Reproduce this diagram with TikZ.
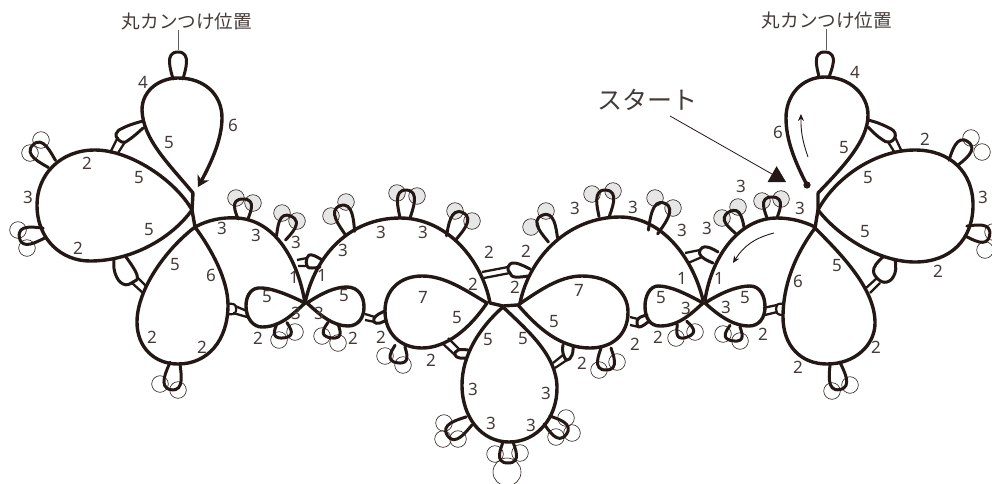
\documentclass[tikz,border=0pt]{standalone}
\usepackage{fontspec}
\setmainfont{Noto Sans}
\newfontfamily\jpfont{Noto Sans CJK JP}
\usepackage{xcolor}
\usetikzlibrary{arrows.meta}
\definecolor{ink}{HTML}{231815}
\definecolor{pale}{HTML}{E6E6E6}
\begin{document}
\begin{tikzpicture}[
    x=1pt,y=-1pt,
    thread/.style={draw=ink,line width=3.4pt,line join=round,line cap=round},
    bag/.style={thread,line width=3pt},
    leg/.style={draw=ink,line width=2.3pt},
    bead/.style={draw=ink,line width=0.6pt},
    flow/.style={draw=ink,line width=0.9pt,-{Stealth[length=7pt,width=6pt]}},
    stitch/.style={inner sep=0pt,text=ink!85,font=\fontsize{17}{18}\selectfont},
    tag/.style={inner sep=0pt,text=ink!85,font=\jpfont\fontsize{18.6}{20}\selectfont},
    leader/.style={draw=ink!70,line width=0.8pt},
    picot/.pic={\draw[bag] (-5,0) .. controls (-7,-.3*\plen) and (-14,-\plen) .. (0,-\plen)
      .. controls (14,-\plen) and (7,-.3*\plen) .. (5,0);}
  ]
    \useasboundingbox (0,0) rectangle (992,483);
    % beads
    \foreach \x/\y in {236/198,253/203,282/213,297/221,346/202,331/216,397/193,417/196,455/211,472/221,
        546/211,531/227,592/194,613/191,655/198,673/208,738/207,722/218,762/201,781/199}
      \draw[bead,fill=pale] (\x,\y) circle (8.3);
    \foreach \x/\y in {41/140,30/153,18/230,27/248,160/384,178/390,279/340,295/332,322/336,338/343,385/356,403/365,
        444/423,443/439,458/439,495/454,520/453,566/418,572/433,556/437,599/370,617/362,676/338,695/332,
        723/334,740/341,832/391,850/385,971/138,982/152,993/232,985/250}
      \draw[bead] (\x,\y) circle (8.3);
    \draw[bead] (507,472) circle (14);
    % rings on the left
    \draw[thread,-{Stealth[length=11pt,width=13pt]}] (193,193) .. controls (170,165) and (143,140) .. (142,110)
      .. controls (142,90) and (160,78) .. (178,78) .. controls (205,78) and (222,95) .. (222,118)
      .. controls (222,140) and (210,165) .. (198,187);
    \draw[thread] (192,210) .. controls (175,180) and (130,150) .. (95,150) .. controls (60,150) and (37,175) .. (37,205)
      .. controls (37,240) and (62,261) .. (90,261) .. controls (130,261) and (170,240) .. (192,210);
    \draw[thread] (195,227) .. controls (165,250) and (137,290) .. (137,322) .. controls (137,348) and (155,364) .. (178,364)
      .. controls (208,364) and (228,340) .. (228,305) .. controls (228,280) and (212,250) .. (195,227);
    \draw[thread] (193,193) -- (192,210) -- (195,227);
    \draw[thread] (195,227) .. controls (208,220) and (222,217) .. (237,218) .. controls (275,220) and (298,260) .. (305,303);
    \draw[thread] (305,303) .. controls (285,293) and (268,287) .. (258,288) .. controls (250,289) and (246,297) .. (246,306)
      .. controls (246,318) and (253,327) .. (262,327) .. controls (280,327) and (292,315) .. (305,303);
    \draw[thread] (305,303) .. controls (315,255) and (350,218) .. (400,218) .. controls (447,218) and (482,260) .. (490,303);
    \draw[thread] (307,303) .. controls (322,293) and (335,287) .. (347,287) .. controls (358,287) and (364,296) .. (364,307)
      .. controls (364,318) and (358,326) .. (348,326) .. controls (333,326) and (320,315) .. (307,303);
    \draw[thread] (487,303) .. controls (465,290) and (445,276) .. (422,276) .. controls (400,276) and (385,290) .. (385,311)
      .. controls (385,333) and (400,348) .. (422,348) .. controls (447,348) and (470,328) .. (487,303);
    % centre ring and the thread across
    \draw[thread] (503,307) .. controls (480,327) and (462,355) .. (462,385) .. controls (462,418) and (482,442) .. (509,442)
      .. controls (537,442) and (557,418) .. (557,388) .. controls (557,355) and (527,330) .. (503,307);
    \draw[thread] (490,303) -- (503,306) -- (517,305);
    % rings on the right
    \draw[thread] (518,305) .. controls (540,290) and (560,276) .. (582,276) .. controls (610,276) and (628,292) .. (628,312)
      .. controls (628,335) and (612,348) .. (590,348) .. controls (560,348) and (538,328) .. (518,305);
    \draw[thread] (520,303) .. controls (530,255) and (570,217) .. (620,217) .. controls (660,217) and (692,255) .. (703,300);
    \draw[thread] (703,303) .. controls (685,293) and (670,286) .. (658,286) .. controls (650,286) and (645,296) .. (645,306)
      .. controls (645,318) and (650,326) .. (660,326) .. controls (678,326) and (690,315) .. (703,303);
    \draw[thread] (705,300) .. controls (712,255) and (740,218) .. (777,218) .. controls (790,218) and (803,221) .. (815,227);
    \draw[thread] (705,303) .. controls (722,292) and (738,286) .. (750,286) .. controls (760,286) and (765,296) .. (765,307)
      .. controls (765,318) and (759,326) .. (749,326) .. controls (733,326) and (718,315) .. (705,303);
    \draw[thread] (815,228) .. controls (795,255) and (783,285) .. (783,317) .. controls (783,345) and (800,364) .. (827,364)
      .. controls (855,364) and (875,345) .. (875,323) .. controls (875,290) and (845,258) .. (815,228);
    \draw[thread] (818,210) .. controls (835,178) and (875,150) .. (915,150) .. controls (950,150) and (973,172) .. (973,205)
      .. controls (973,240) and (950,262) .. (915,262) .. controls (880,262) and (840,238) .. (818,210);
    \draw[thread] (807,185) .. controls (795,162) and (786,140) .. (786,118) .. controls (786,95) and (802,77) .. (825,77)
      .. controls (850,77) and (868,95) .. (868,115) .. controls (868,140) and (845,165) .. (818,193);
    \draw[thread] (818,193) -- (818,210) -- (815,228);
    \fill[ink] (807,185) circle (3.6);
    % picots
    \foreach \x/\y/\a/\plen in {178/79/0/27,52/164/45/27,44/233/100/25,175/363/172/27,243/219/0/20,281/238/-25/24,
        282/323/185/15,333/323/172/15,350/233/20/29,405/218/-3/28,451/238/-25/28,400/346/172/17,
        469/421/124/26,508/442/180/21,547/420/-127/24,553/240/24/27,604/217/-4/27,653/232/-22/31,
        606/348/180/22,682/323/-160/15,735/326/172/15,740/231/30/22,772/218/0/21,835/363/190/27,
        824/77/-3/25,953/163/-35/26,966/231/-100/24}
      \pic[rotate=\a] at (\x,\y) {picot};
    % joins, bag first and then its two legs
    \draw[bag] plot[smooth,tension=.8] coordinates {(143,121) (125,127) (116,134) (122,142) (130,139) (143,128)};
    \draw[leg] (118,137) -- (110,153) (125,142) -- (118,153);
    \draw[bag] plot[smooth,tension=.8] coordinates {(114,259) (115,273) (123,284) (133,282) (137,275) (126,257)};
    \draw[leg] (132,283) -- (143,293) (137,277) -- (146,286);
    \draw[bag,line width=2.2pt] plot[smooth,tension=.8] coordinates {(228,304) (235,305) (235,313) (228,314)};
    \draw[leg] (235,306) -- (247,311) (233,313) -- (247,317);
    \draw[bag] plot[smooth,tension=.8] coordinates {(385,311) (376,316) (374,322) (380,323) (386,320)};
    \draw[leg] (365,314) -- (375,317) (365,320) -- (375,322);
    \draw[bag] plot[smooth,tension=.8] coordinates {(322,260) (312,255) (307,258) (307,266) (312,268) (320,267)};
    \draw[leg] (297,260) -- (307,258) (298,266) -- (307,266);
    \draw[bag] plot[smooth,tension=.8] coordinates {(530,269) (515,263) (508,267) (510,273) (515,277) (528,276)};
    \draw[leg] (482,272) -- (508,267) (484,278) -- (510,273);
    \draw[bag] plot[smooth,tension=.8] coordinates {(467,358) (460,358) (455,355) (458,350) (468,350)};
    \draw[leg] (442,343) -- (455,355) (448,338) -- (460,350);
    \draw[bag] plot[smooth,tension=.8] coordinates {(563,345) (563,353) (567,360) (572,355) (573,347)};
    \draw[leg] (553,363) -- (563,355) (555,368) -- (567,360);
    \draw[bag] plot[smooth,tension=.8] coordinates {(718,252) (707,247) (700,250) (702,257) (713,263)};
    \draw[leg] (685,253) -- (700,250) (688,263) -- (702,257);
    \draw[bag] plot[smooth,tension=.8] coordinates {(647,315) (638,319) (639,327) (648,322)};
    \draw[leg] (630,317) -- (638,319) (630,325) -- (639,327);
    \draw[bag,line width=2.2pt] plot[smooth,tension=.8] coordinates {(783,304) (777,305) (777,313) (783,315)};
    \draw[leg] (763,308) -- (777,305) (765,315) -- (777,312);
    \draw[bag] plot[smooth,tension=.8] coordinates {(883,257) (874,268) (877,278) (887,282) (895,273) (895,260)};
    \draw[leg] (866,288) -- (877,278) (870,293) -- (880,283);
    \draw[bag] plot[smooth,tension=.8] coordinates {(868,120) (883,125) (895,133) (890,142) (880,138) (868,127)};
    \draw[leg] (888,142) -- (895,153) (895,137) -- (902,152);
    % ring counts
    \foreach \x/\y/\t [count=\n] in {143/82/4,233/125/6,169/143/5,87/163/2,139/178/5,28/197/3,149/230/5,78/248/2,
        222/228/3,256/235/3,296/242/3,175/265/5,211/275/6,294/277/1,322/275/1,267/297/5,296/313/3,319/313/3,
        152/337/2,202/347/2,258/338/2,343/250/3,381/232/3,423/232/3,489/252/2,526/251/2,473/284/2,515/287/2,
        423/297/7,579/290/7,344/296/5,457/318/5,554/322/5,488/340/5,523/339/5,353/338/2,381/337/2,431/360/2,
        582/363/2,473/389/3,546/393/3,491/423/3,531/425/3,575/208/3,855/72/4,778/132/6,844/148/5,925/139/2,
        868/178/5,983/197/3,741/186/3,633/207/3,682/230/3,707/228/3,800/208/3,865/232/5,938/271/2,837/266/5,
        798/281/6,682/278/1,719/278/1,661/298/5,686/308/3,726/307/3,745/298/5,658/337/2,635/344/2,763/334/2,
        876/347/2,798/367/2}
      \node[stitch] (n\n) at (\x,\y) {\t};
    % the two ring tags and the start mark
    \node[tag] (tagleft) at (187,21) {丸カンつけ位置};
    \node[tag] (tagright) at (827,20) {丸カンつけ位置};
    \coordinate (picotleft) at (178,50);
    \coordinate (picotright) at (826,50);
    \draw[leader] (tagleft.south -| picotleft) -- (picotleft);
    \draw[leader] (tagright.south -| picotright) -- (picotright);
    \node[tag,font=\jpfont\fontsize{25}{28}\selectfont] (start) at (647,100) {スタート};
    \coordinate (startfrom) at (670,116);
    \coordinate (startdot) at (786,182);
    \draw[draw=ink,line width=0.8pt,-{Triangle[length=16pt,width=18pt]}] (startfrom) -- (startdot);
    \coordinate (flowa) at (808,157);
    \coordinate (flowb) at (801,114);
    \draw[flow] (flowa) to[bend left=10] (flowb);
    \coordinate (flowc) at (774,233);
    \coordinate (flowd) at (733,263);
    \draw[flow] (flowc) to[bend right=22] (flowd);
  \end{tikzpicture}
\end{document}
